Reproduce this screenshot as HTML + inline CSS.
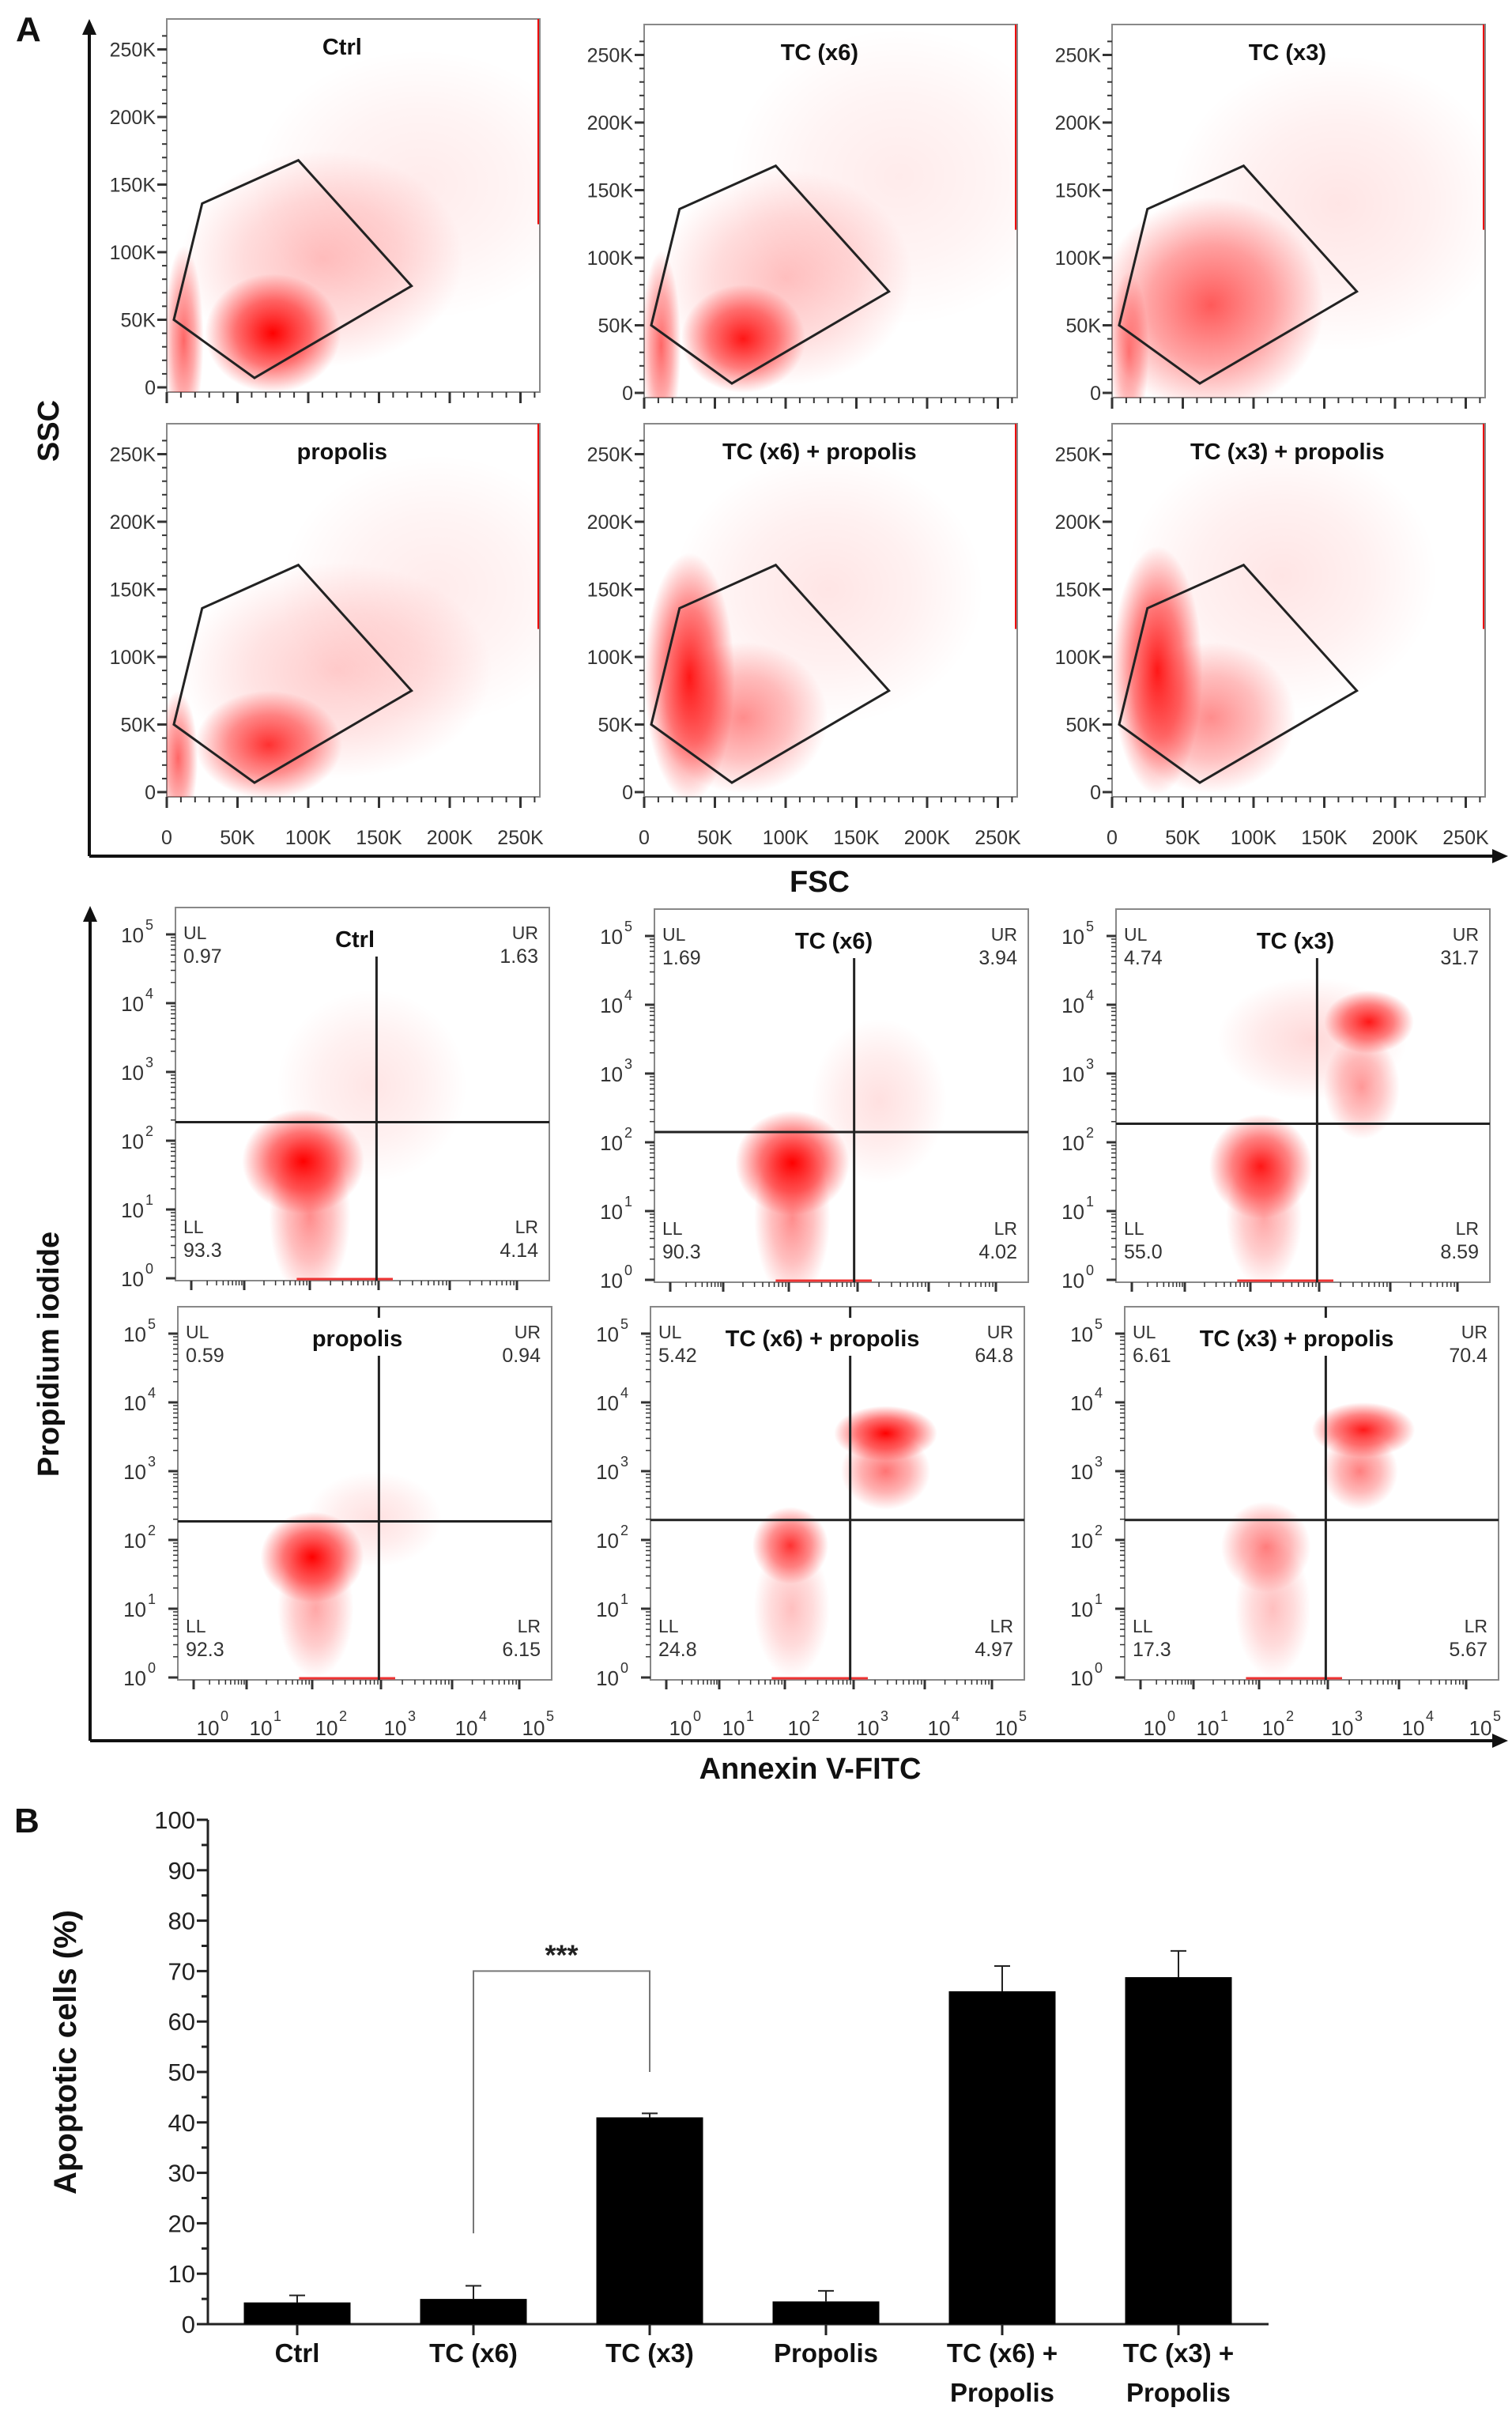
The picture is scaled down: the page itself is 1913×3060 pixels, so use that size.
<!DOCTYPE html>
<html><head><meta charset="utf-8">
<style>
html,body{margin:0;padding:0;background:#fff;}
svg{display:block;font-family:"Liberation Sans",Arial,sans-serif;}
</style></head>
<body>
<svg id="fig" width="1913" height="3060" viewBox="0 0 1913 3060" xmlns="http://www.w3.org/2000/svg">
<defs>
<radialGradient id="blob"><stop offset="0" stop-color="#ff0000" stop-opacity="1"/><stop offset="0.55" stop-color="#ff0000" stop-opacity="0.55"/><stop offset="1" stop-color="#ff0000" stop-opacity="0"/></radialGradient>
</defs>
</svg>
<script>
// ---------- Panel A top: FSC/SSC ----------
const fscTitles = ["Ctrl","TC (x6)","TC (x3)","propolis","TC (x6) + propolis","TC (x3) + propolis"];
const fscTicks = [0,50,100,150,200,250];
const fscTickLabels = ["0","50K","100K","150K","200K","250K"];
const gateFSC = [5,25,93,173,62];
const gateSSC = [50,136,168,75,7];
// clusters: [fsc K, ssc K, sdx K, sdy K, density]
const fscClusters = [
 [[110,95,50,40,0.25],[180,150,60,50,0.08],[12,35,7,35,0.6],[75,40,24,22,1]],
 [[100,85,45,40,0.25],[180,160,60,55,0.08],[12,35,7,35,0.6],[70,40,22,20,0.9]],
 [[160,140,60,55,0.1],[12,30,7,30,0.5],[70,65,40,40,0.65]],
 [[120,90,55,40,0.2],[190,150,55,50,0.08],[8,25,7,25,0.6],[72,35,26,20,0.8]],
 [[130,150,55,50,0.1],[70,55,30,28,0.45],[32,85,16,46,0.9]],
 [[120,160,55,50,0.1],[70,55,30,28,0.45],[32,90,16,46,0.9]]
];
// ---------- Panel A bottom: Annexin/PI ----------
const annTitles = ["Ctrl","TC (x6)","TC (x3)","propolis","TC (x6) + propolis","TC (x3) + propolis"];
const annUL = ["0.97","1.69","4.74","0.59","5.42","6.61"];
const annUR = ["1.63","3.94","31.7","0.94","64.8","70.4"];
const annLL = ["93.3","90.3","55.0","92.3","24.8","17.3"];
const annLR = ["4.14","4.02","8.59","6.15","4.97","5.67"];
const annGateX = [2.97,2.95,2.97,2.97,2.95,2.97];
const annGateY = [2.27,2.15,2.27,2.27,2.29,2.29];
const annDecades = [0,1,2,3,4,5];
// clusters: [log annexin, log PI, sdx, sdy, density]
const annClusters = [
 [[2.9,2.8,0.7,0.7,0.1],[2.0,0.9,0.3,0.6,0.45],[1.9,1.7,0.45,0.38,1]],
 [[3.3,2.6,0.5,0.6,0.12],[2.05,0.9,0.28,0.6,0.45],[2.05,1.7,0.42,0.38,1]],
 [[2.9,3.5,0.7,0.45,0.15],[2.2,0.9,0.28,0.5,0.35],[3.6,2.8,0.28,0.38,0.4],[2.15,1.65,0.38,0.38,0.9],[3.7,3.75,0.33,0.23,0.9]],
 [[2.9,2.3,0.5,0.35,0.12],[2.05,1.0,0.28,0.5,0.35],[2.0,1.75,0.38,0.33,1]],
 [[2.1,1.0,0.28,0.5,0.25],[3.45,3.0,0.33,0.28,0.55],[2.08,1.92,0.28,0.28,0.8],[3.45,3.55,0.38,0.2,1]],
 [[2.2,1.0,0.28,0.5,0.25],[3.45,3.0,0.28,0.28,0.5],[2.1,1.9,0.33,0.33,0.5],[3.5,3.6,0.38,0.2,0.9]]
];
// ---------- Panel B: bar chart ----------
const barCats = [["Ctrl"],["TC (x6)"],["TC (x3)"],["Propolis"],["TC (x6) +","Propolis"],["TC (x3) +","Propolis"]];
const barVals = [4.3,5.0,41.0,4.5,66.0,68.8];
const barErr = [1.4,2.6,0.8,2.1,5.0,5.2];
const barTicks = [0,10,20,30,40,50,60,70,80,90,100];
const sigFrom = 1, sigTo = 2, sigLevel = 70, sigLeftEnd = 18, sigRightEnd = 50;

const svg = document.getElementById('fig');
const defs = svg.querySelector('defs');
const NS = 'http://www.w3.org/2000/svg';
function mk(tag, attrs, parent){const e=document.createElementNS(NS,tag);for(const k in attrs)e.setAttribute(k,attrs[k]);(parent||svg).appendChild(e);return e;}
function txt(x,y,s,size,opts,parent){const o=opts||{};const t=mk('text',{x:x,y:y,'font-size':size,'text-anchor':o.anchor||'start','font-weight':o.bold?'bold':'normal',fill:o.fill||'#222'},parent);if(o.rot)t.setAttribute('transform','rotate(-90 '+x+' '+y+')');t.textContent=s;return t;}
function clip(id,x,y,w,h){const c=mk('clipPath',{id:id},defs);mk('rect',{x:x,y:y,width:w,height:h},c);return 'url(#'+id+')';}

// ---- FSC panels ----
const fscBoxes = [[211,24],[815,31],[1407,31],[211,536],[815,536],[1407,536]];
const PW=472, PH=472;
fscBoxes.forEach((b,i)=>{
  const g=mk('g',{});
  
  
  const L=b[0],T=b[1],B=T+PH;
  const xs=v=>L+v*1.79, ys=v=>B-6-v*1.71;
  mk('rect',{x:L,y:T,width:PW,height:PH,fill:'#fff',stroke:'#888','stroke-width':2},g);
  const cg=mk('g',{'clip-path':clip('cf'+i,L,T,PW,PH)},g);
  fscClusters[i].forEach(c=>{
    const e=mk('ellipse',{cx:xs(c[0]),cy:ys(c[1]),rx:c[2]*1.79*2,ry:c[3]*1.71*2,fill:'url(#blob)','fill-opacity':c[4]},cg);
    
    
  });
  mk('line',{x1:L+PW-2,y1:T,x2:L+PW-2,y2:T+PH*0.55,stroke:'#e00','stroke-width':2},g);
  const pts=gateFSC.map((f,k)=>xs(f)+','+ys(gateSSC[k])).join(' ');
  const gate=mk('polygon',{points:pts,fill:'none',stroke:'#222','stroke-width':3},g);
  
  
  for(let v=0;v<=260;v+=10){const maj=v%50===0;
    mk('line',{x1:L,y1:ys(v),x2:L-(maj?12:6),y2:ys(v),stroke:'#333','stroke-width':maj?3:2},g);
    mk('line',{x1:xs(v),y1:B,x2:xs(v),y2:B+(maj?14:7),stroke:'#333','stroke-width':maj?3:2},g);}
  fscTicks.forEach((v,k)=>{txt(L-14,ys(v)+9,fscTickLabels[k],25,{anchor:'end',fill:'#333'},g);
    if(i>=3) txt(xs(v),B+60,fscTickLabels[k],25,{anchor:'middle',fill:'#333'},g);});
  const t=txt(L+PW*0.47,T+45,fscTitles[i],29,{anchor:'middle',bold:true,fill:'#111'},g);
  
  
});
mk('line',{x1:113,y1:1083,x2:113,y2:40,stroke:'#111','stroke-width':4});
mk('path',{d:'M104,44 L113,24 L122,44 Z',fill:'#111'});
mk('line',{x1:113,y1:1083,x2:1890,y2:1083,stroke:'#111','stroke-width':4});
mk('path',{d:'M1888,1074 L1908,1083 L1888,1092 Z',fill:'#111'});
txt(20,52,'A',44,{bold:true,fill:'#111'});
txt(74,545,'SSC',38,{bold:true,rot:true,anchor:'middle',fill:'#111'});
txt(1037,1128,'FSC',38,{bold:true,anchor:'middle',fill:'#111'});

// ---- Annexin panels ----
const annBoxes=[[222,1148],[828,1150],[1412,1150],[225,1653],[823,1653],[1423,1653]];
const AW=473, AH=472;
const decOff=[20,87,170,257,347,432];
annBoxes.forEach((b,i)=>{
  const g=mk('g',{});
  
  
  const L=b[0],T=b[1],B=T+AH;
  const xs=v=>{const d=Math.max(0,Math.min(4,Math.floor(v)));return L+decOff[d]+(v-d)*(decOff[d+1]-decOff[d]);};
  const ys=v=>B-3-v*87;
  mk('rect',{x:L,y:T,width:AW,height:AH,fill:'#fff',stroke:'#888','stroke-width':2},g);
  const cg=mk('g',{'clip-path':clip('ca'+i,L,T,AW,AH)},g);
  annClusters[i].forEach(c=>{
    const e=mk('ellipse',{cx:xs(c[0]),cy:ys(c[1]),rx:c[2]*86*2,ry:c[3]*87*2,fill:'url(#blob)','fill-opacity':c[4]},cg);
    
    
  });
  mk('line',{x1:xs(1.8),y1:B-2,x2:xs(3.2),y2:B-2,stroke:'#e33','stroke-width':3},g);
  const hl=mk('line',{x1:L,y1:ys(annGateY[i]),x2:L+AW,y2:ys(annGateY[i]),stroke:'#222','stroke-width':3},g);
  
  
  const gx=xs(annGateX[i]);
  const vl=mk('line',{x1:gx,y1:T+62,x2:gx,y2:B,stroke:'#222','stroke-width':3},g);
  
  
  if(i>=3){mk('line',{x1:gx,y1:T,x2:gx,y2:T+14,stroke:'#222','stroke-width':3},g);}
  annDecades.forEach(d=>{
    mk('line',{x1:L,y1:ys(d),x2:L-12,y2:ys(d),stroke:'#333','stroke-width':3},g);
    for(let m=2;m<10&&d<5;m++){const yy=ys(d+Math.log10(m));mk('line',{x1:L,y1:yy,x2:L-6,y2:yy,stroke:'#333','stroke-width':1.5},g);}
    txt(L-40,ys(d)+10,'10',26,{anchor:'end',fill:'#333'},g);
    txt(L-38,ys(d)-6,String(d),18,{fill:'#333'},g);
    mk('line',{x1:xs(d),y1:B,x2:xs(d),y2:B+12,stroke:'#333','stroke-width':3},g);
    for(let m=2;m<10&&d<5;m++){const xx=xs(d+Math.log10(m));mk('line',{x1:xx,y1:B,x2:xx,y2:B+6,stroke:'#333','stroke-width':1.5},g);}
    if(i>=3){txt(xs(d)+18,B+70,'10',26,{anchor:'middle',fill:'#333'},g);txt(xs(d)+34,B+52,String(d),18,{fill:'#333'},g);}
  });
  const f='#333';
  txt(L+10,T+40,'UL',23,{fill:f},g); txt(L+10,T+70,annUL[i],25,{fill:f},g);
  txt(L+AW-14,T+40,'UR',23,{anchor:'end',fill:f},g); txt(L+AW-14,T+70,annUR[i],25,{anchor:'end',fill:f},g);
  txt(L+10,B-60,'LL',23,{fill:f},g); txt(L+10,B-30,annLL[i],25,{fill:f},g);
  txt(L+AW-14,B-60,'LR',23,{anchor:'end',fill:f},g); txt(L+AW-14,B-30,annLR[i],25,{anchor:'end',fill:f},g);
  const t=txt(L+AW*(i>=4?0.46:0.48),T+50,annTitles[i],29,{anchor:'middle',bold:true,fill:'#111'},g);
  
  
});
mk('line',{x1:114,y1:2202,x2:114,y2:1162,stroke:'#111','stroke-width':4});
mk('path',{d:'M105,1166 L114,1146 L123,1166 Z',fill:'#111'});
mk('line',{x1:114,y1:2202,x2:1890,y2:2202,stroke:'#111','stroke-width':4});
mk('path',{d:'M1888,2193 L1908,2202 L1888,2211 Z',fill:'#111'});
txt(74,1713,'Propidium iodide',38,{bold:true,rot:true,anchor:'middle',fill:'#111'});
txt(1025,2250,'Annexin V-FITC',38,{bold:true,anchor:'middle',fill:'#111'});

// ---- Bar chart ----
const bg=mk('g',{});


const AX=263, Y0=2940, Y100=2302, X0=376, STEP=223, BW=135;
const yb=v=>Y0-(v/100)*(Y0-Y100);
const xb=i=>X0+i*STEP;
txt(18,2318,'B',44,{bold:true,fill:'#111'},bg);
mk('line',{x1:AX,y1:Y100,x2:AX,y2:Y0,stroke:'#222','stroke-width':3},bg);
mk('line',{x1:AX-14,y1:Y0,x2:1605,y2:Y0,stroke:'#222','stroke-width':3},bg);
for(let v=0;v<=100;v+=5){mk('line',{x1:AX,y1:yb(v),x2:AX-(v%10===0?14:8),y2:yb(v),stroke:'#222','stroke-width':3},bg);}
barTicks.forEach(v=>txt(AX-16,yb(v)+11,String(v),31,{anchor:'end',fill:'#222'},bg));
barVals.forEach((v,i)=>{
  const cx=xb(i);
  mk('line',{x1:cx,y1:yb(v),x2:cx,y2:yb(v+barErr[i]),stroke:'#222','stroke-width':2},bg);
  mk('line',{x1:cx-10,y1:yb(v+barErr[i]),x2:cx+10,y2:yb(v+barErr[i]),stroke:'#222','stroke-width':2},bg);
  const r=mk('rect',{x:cx-BW/2,y:yb(v),width:BW,height:Y0-yb(v),fill:'#000'},bg);
  
  
  mk('line',{x1:cx,y1:Y0,x2:cx,y2:Y0+14,stroke:'#222','stroke-width':3},bg);
  barCats[i].forEach((s,k)=>txt(cx,Y0+48+k*50,s,33,{anchor:'middle',bold:true,fill:'#111'},bg));
});
const sl=xb(sigFrom), sr=xb(sigTo);
mk('polyline',{points:sl+','+yb(sigLeftEnd)+' '+sl+','+yb(sigLevel)+' '+sr+','+yb(sigLevel)+' '+sr+','+yb(sigRightEnd),fill:'none',stroke:'#777','stroke-width':2},bg);
txt((sl+sr)/2,yb(sigLevel)-8,'***',36,{anchor:'middle',bold:true,fill:'#222'},bg);
txt(96,2596,'Apoptotic cells (%)',40,{bold:true,rot:true,anchor:'middle',fill:'#111'},bg);
</script>
</body></html>
